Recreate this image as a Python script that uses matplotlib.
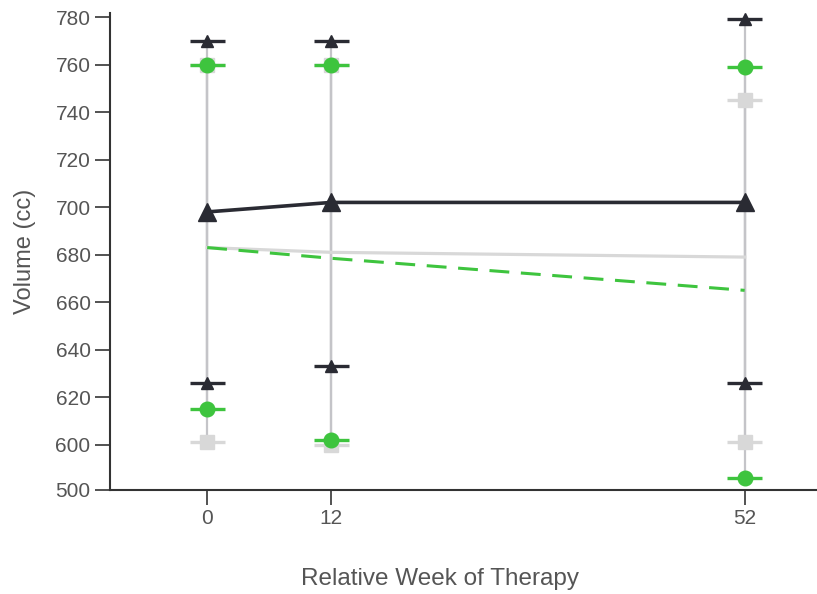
import numpy as np
import matplotlib
matplotlib.use("Agg")
import matplotlib.pyplot as plt

plt.rcParams['font.family'] = ['Liberation Sans', 'DejaVu Sans']

# weeks of therapy
weeks = [0, 12, 52]

# black series (triangles): mean, min, max
black_mean = [698, 702, 702]
black_min = [626, 633, 626]
black_max = [770, 770, 779]

# green series (circles)
green_mean = [683, 678.5, 665]
green_min = [615, 602, 586]
green_max = [760, 760, 759]

# light gray series (squares)
gray_mean = [683, 681, 679]
gray_min = [601, 600, 601]
gray_max = [760, 760, 745]

ytick_vals = [581, 600, 620, 640, 660, 680, 700, 720, 740, 760, 780]
ytick_labels = ['500', '600', '620', '640', '660', '680', '700', '720', '740', '760', '780']

c_black = '#2a2b33'
c_green = '#3ec43e'
c_gray = '#d8d8d8'
c_bar = '#c4c4c8'

fig = plt.figure(figsize=(8.17, 5.94), dpi=100)
ax = fig.add_axes([110/817, 1 - 490/594, 707/817, 477/594])

w = np.array(weeks)

# vertical range lines (gray) for every series
for lo, hi in [(gray_min, gray_max), (green_min, green_max), (black_min, black_max)]:
    ax.vlines(w, lo, hi, color=c_bar, lw=1.6, zorder=1)

# caps and end markers
def ends(lo, hi, col, mk, ms, z):
    for vals in (lo, hi):
        ax.errorbar(w, vals, xerr=1.7, fmt='none', ecolor=col, elinewidth=2.4, capsize=0, zorder=z)
        ax.plot(w, vals, linestyle='none', marker=mk, ms=ms, color=col, zorder=z)

ends(gray_min, gray_max, c_gray, 's', 10, 2)
ends(green_min, green_max, c_green, 'o', 10.5, 3)
ends(black_min, black_max, c_black, '^', 9, 4)

# mean lines
ax.plot(w, gray_mean, color=c_gray, lw=2.3, zorder=2)
ax.plot(w, green_mean, color=c_green, lw=2.2, ls=(0, (6.5, 3.8)), zorder=3)
ax.plot(w, black_mean, color=c_black, lw=2.6, marker='^', ms=13, zorder=4)

ax.set_xlim(-9.4, 59)
ax.set_ylim(581, 781.7)
ax.set_xticks(weeks)
ax.set_xticklabels([str(v) for v in weeks])
ax.set_yticks(ytick_vals)
ax.set_yticklabels(ytick_labels)

for s in ['top', 'right']:
    ax.spines[s].set_visible(False)
for s in ['left', 'bottom']:
    ax.spines[s].set_color('#333333')
    ax.spines[s].set_linewidth(1.5)

ax.tick_params(axis='both', direction='out', length=10.5, width=1.3, color='#444444',
               labelsize=15, labelcolor='#555555', pad=3.5)

ax.set_ylabel('Volume (cc)', fontsize=17, color='#555555')
ax.yaxis.set_label_coords(-0.105, 0.5)
ax.set_xlabel('Relative Week of Therapy', fontsize=17.5, color='#555555')
ax.xaxis.set_label_coords(0.467, -0.163)

fig.savefig('out.png', dpi=100)
